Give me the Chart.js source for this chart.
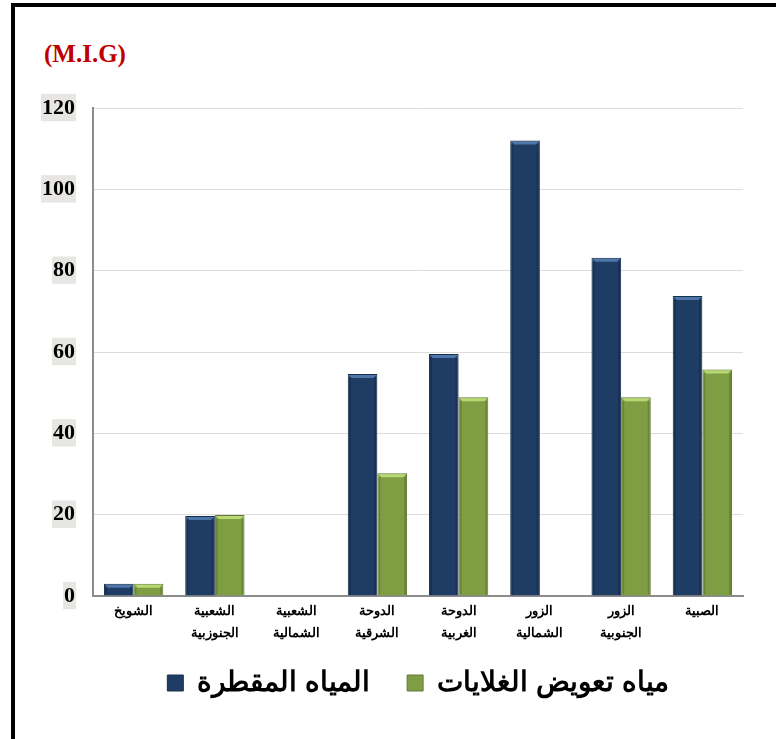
<!DOCTYPE html>
<html>
<head>
<meta charset="utf-8">
<script src="https://cdn.jsdelivr.net/npm/chart.js@4.4.0/dist/chart.umd.min.js"></script>
<style>
  html, body { margin: 0; padding: 0; background: #fff; }
  #wrap { position: relative; width: 776px; height: 739px; overflow: hidden; }
  #frame { position: absolute; left: 11px; top: 3px; width: 800px; height: 732px;
           border-top: 4px solid #000; border-left: 4px solid #000; border-bottom: 2px solid #e2e2e2; }
  #unit { position: absolute; left: 44px; top: 40px; color: #c00000;
          font: bold 25px "Liberation Serif", "Times New Roman", serif; }
  canvas { position: absolute; left: 0; top: 0; }
</style>
</head>
<body>
<div id="wrap">
  <div id="frame"></div>
  <div id="unit">(M.I.G)</div>
  <canvas id="chartAgua" width="776" height="739"></canvas>
</div>
<script>
// categorías (de izquierda a derecha)
const categorias = [
    ['الشويخ'],
    ['الشعبية', 'الجنوزبية'],
    ['الشعبية', 'الشمالية'],
    ['الدوحة', 'الشرقية'],
    ['الدوحة', 'الغربية'],
    ['الزور', 'الشمالية'],
    ['الزور', 'الجنوبية'],
    ['الصبية']
];
const nombresSeries = ['المياه المقطرة', 'مياه تعويض الغلايات'];
const aguaDestilada = [3, 19.7, 0, 54.6, 59.5, 112, 83.2, 73.8];
const aguaCalderas = [3, 19.9, 0, 30.2, 48.9, 0, 48.9, 55.7];
const ticksY = [0, 20, 40, 60, 80, 100, 120];

// efecto bisel en la parte superior de cada barra
const biselPlugin = {
    id: 'bisel',
    afterDatasetsDraw(chart) {
        const ctx = chart.ctx;
        const luces = ['#4f76a8', '#b9d873'];
        const sombras = ['#122641', '#55702b'];
        chart.data.datasets.forEach((ds, di) => {
            chart.getDatasetMeta(di).data.forEach((bar, i) => {
                if (!ds.data[i]) return;
                const w = bar.width, x0 = bar.x - w / 2, y0 = bar.y, h = bar.base - bar.y;
                ctx.save();
                ctx.fillStyle = luces[di];
                ctx.beginPath();
                ctx.moveTo(x0 + 1, y0 + 1);
                ctx.lineTo(x0 + w - 1, y0 + 1);
                ctx.lineTo(x0 + w - 4, y0 + 4);
                ctx.lineTo(x0 + 4, y0 + 4);
                ctx.closePath();
                ctx.fill();
                ctx.fillStyle = sombras[di];
                ctx.globalAlpha = 0.5;
                ctx.fillRect(x0 + w - 3, y0 + 4, 2, h - 5);
                ctx.fillRect(x0 + 1, y0 + 4, 2, h - 5);
                ctx.restore();
            });
        });
    }
};

// subir un poco la leyenda (más espacio entre elementos sin bajarla)
const leyendaPlugin = {
    id: 'leyendaArriba',
    afterLayout(chart) {
        if (chart.legend) { chart.legend.top -= 14; chart.legend.bottom -= 14; }
    }
};

const ctx1 = document.getElementById('chartAgua');
const CH_AGUA = new Chart(ctx1, {
    type: 'bar',
    data: {
        labels: categorias,
        datasets: [
            { label: nombresSeries[0], data: aguaDestilada, backgroundColor: '#1f3c65', borderColor: '#18304f', borderWidth: 1 },
            { label: nombresSeries[1], data: aguaCalderas, backgroundColor: '#7f9e44', borderColor: '#62793a', borderWidth: 1 }
        ]
    },
    options: {
        responsive: false,
        animation: false,
        layout: { padding: { left: 0, right: 33, top: 108, bottom: 18 } },
        datasets: { bar: { categoryPercentage: 0.73, barPercentage: 1.0 } },
        plugins: {
            legend: {
                position: 'bottom',
                fullSize: false,
                labels: {
                    color: '#000',
                    font: { family: '"Liberation Sans", Arial, sans-serif', size: 28, weight: 'bold' },
                    boxWidth: 16, boxHeight: 16, padding: 37
                }
            },
            tooltip: { enabled: false },
            title: { display: false }
        },
        scales: {
            x: {
                grid: { display: false, drawTicks: false },
                border: { color: '#8c8c8c', width: 2 },
                ticks: {
                    color: '#000', padding: 4,
                    font: { family: '"Liberation Sans", Arial, sans-serif', size: 13, weight: 'bold', lineHeight: 1.7 },
                    maxRotation: 0, autoSkip: false
                },
                afterFit: s => { s.height = 50; }
            },
            y: {
                min: 0, max: 120,
                afterBuildTicks: s => { s.ticks = ticksY.map(v => ({ value: v })); },
                grid: { color: '#dcdcdc', drawTicks: false },
                border: { color: '#8c8c8c', width: 2 },
                ticks: {
                    color: '#000', padding: 18,
                    font: { family: '"Liberation Serif", "Times New Roman", serif', size: 22, weight: 'bold' },
                    showLabelBackdrop: true, backdropColor: '#e8e6e3', backdropPadding: { top: 1, bottom: 0, left: 1, right: 1 }
                },
                afterFit: s => { s.width = 93; }
            }
        }
    },
    plugins: [biselPlugin, leyendaPlugin]
});
</script>
</body>
</html>
